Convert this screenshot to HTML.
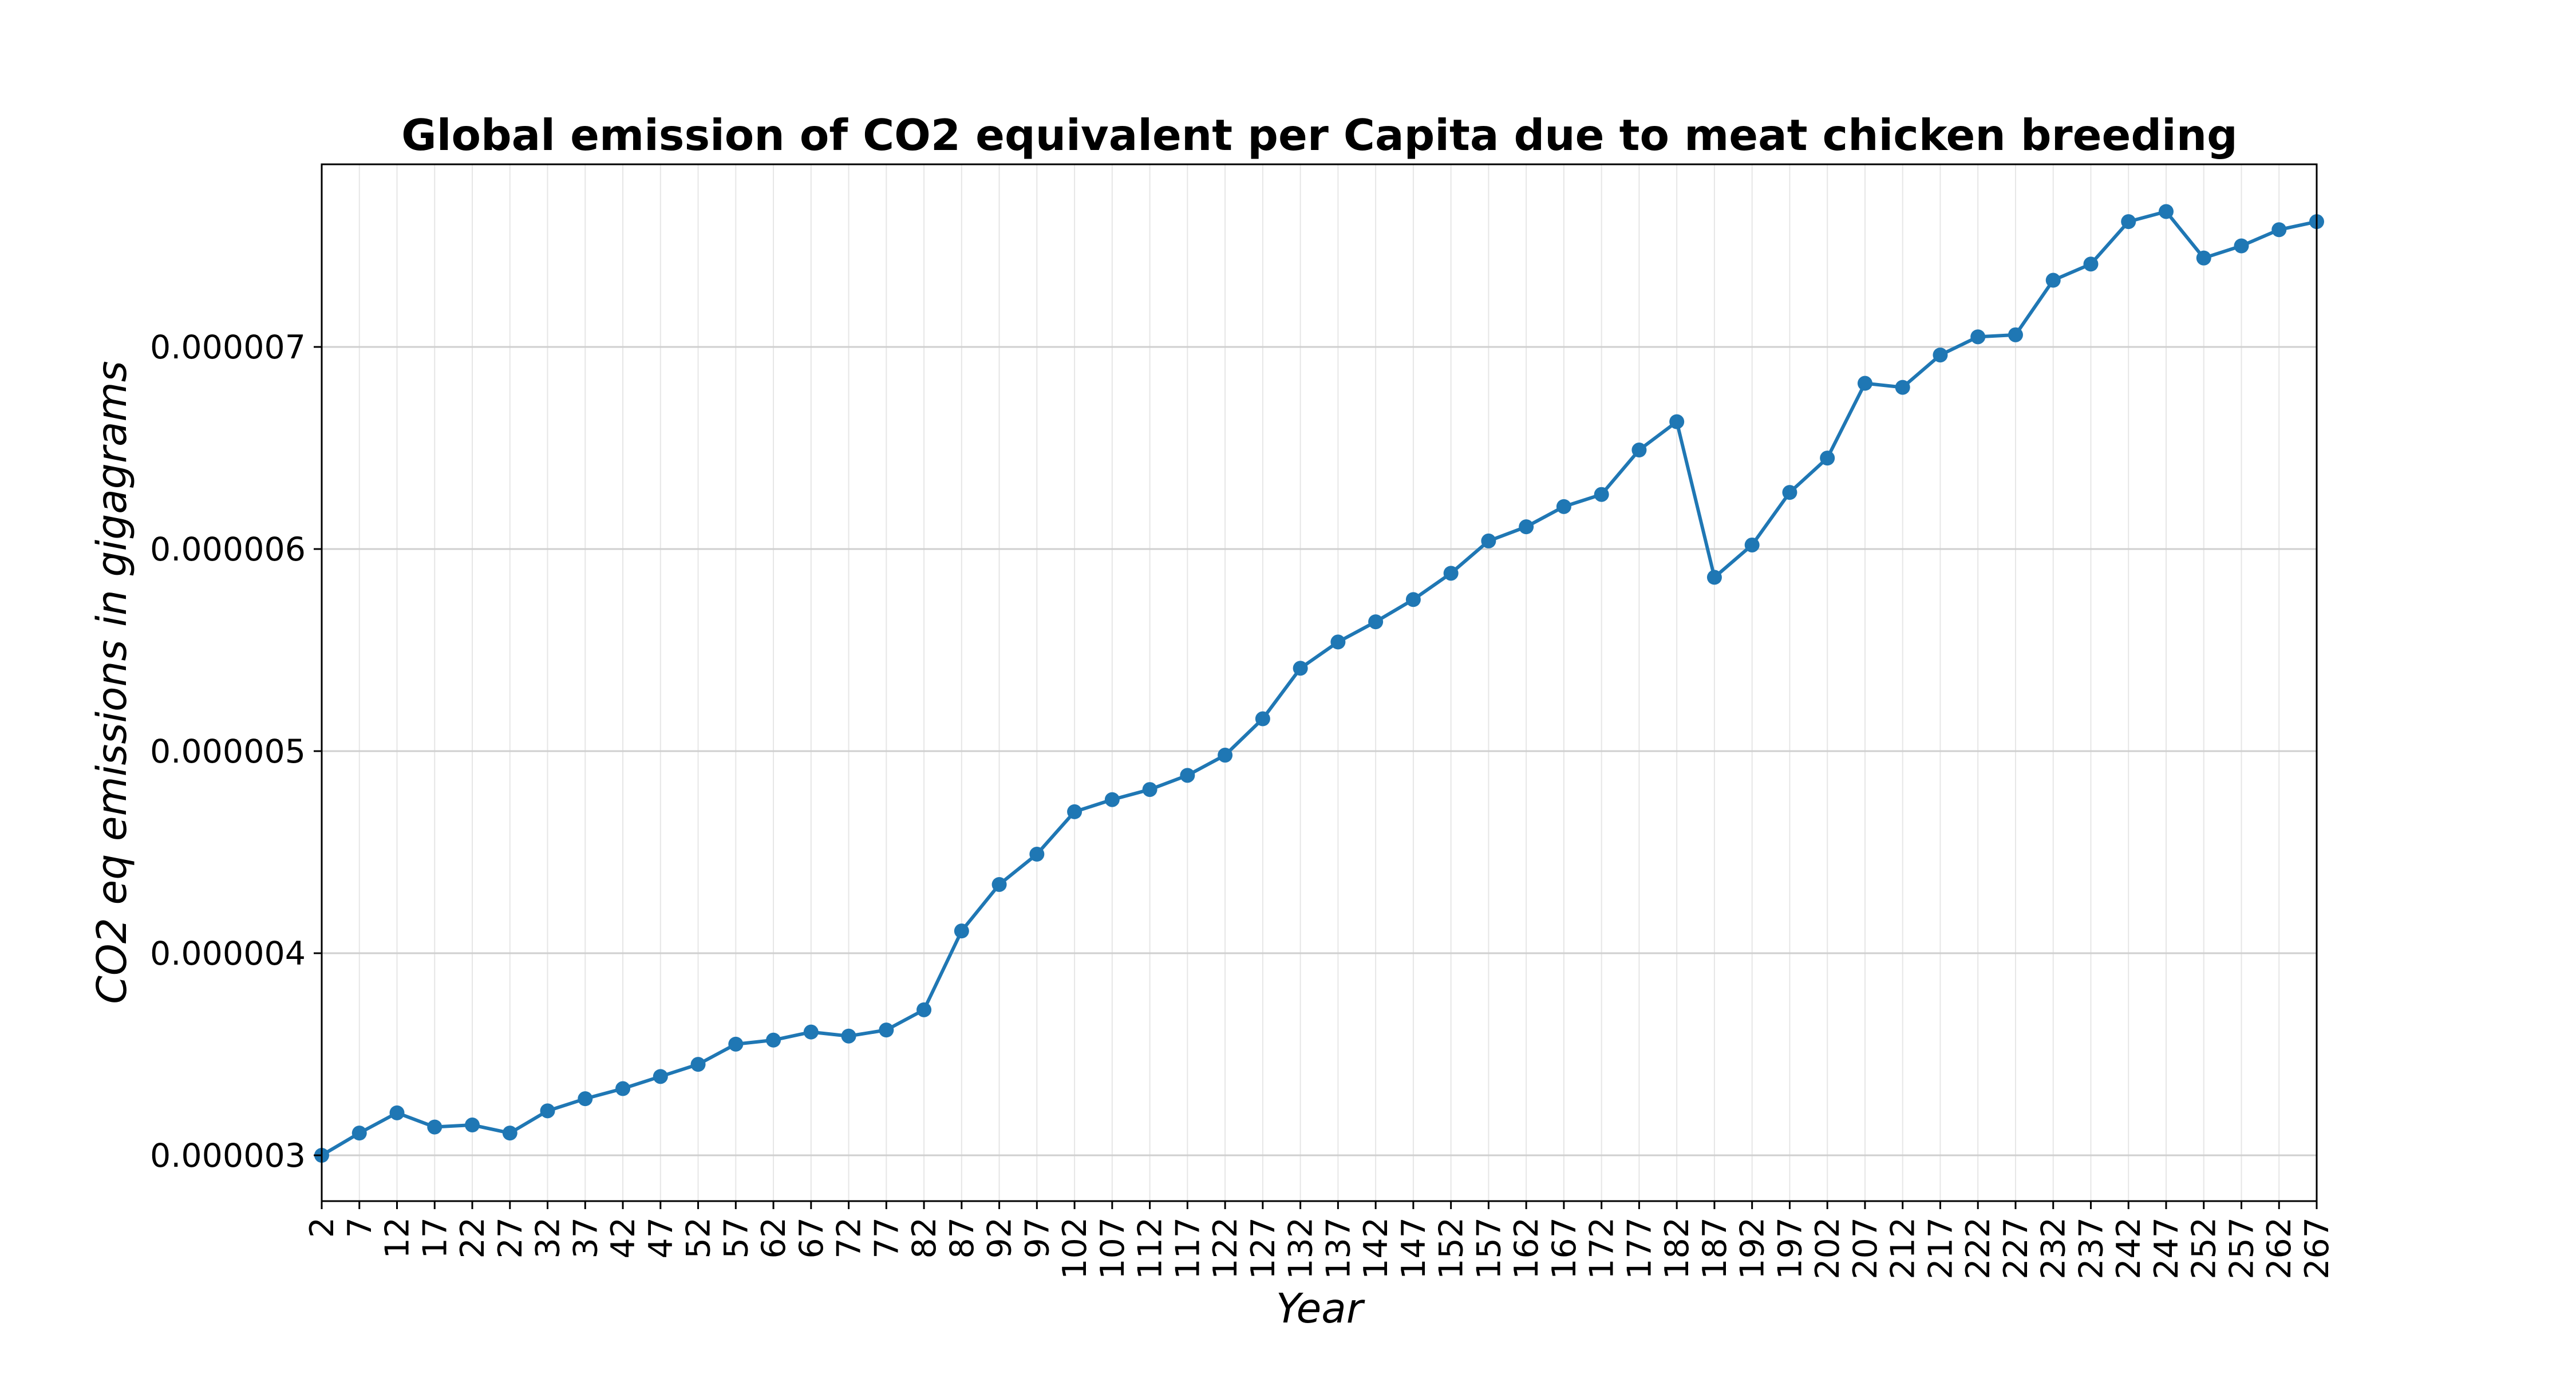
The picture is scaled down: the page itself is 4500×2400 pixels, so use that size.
<!DOCTYPE html>
<html><head><meta charset="utf-8"><style>
html,body{margin:0;padding:0;background:#fff;}
svg{display:block;font-family:"DejaVu Sans","Liberation Sans",sans-serif;}
</style></head><body>
<svg id="chart" width="4500" height="2400" xmlns="http://www.w3.org/2000/svg">
<rect width="4500" height="2400" fill="#fff"/>
<g id="grid"></g>
<g id="series"></g>
<rect x="562" y="287" width="3485" height="1811" fill="none" stroke="#000" stroke-width="3"/>
<g id="axes"></g>
<text x="2305" y="262" text-anchor="middle" font-size="75" font-weight="bold">Global emission of CO2 equivalent per Capita due to meat chicken breeding</text>
<text transform="translate(220,1192) rotate(-90)" text-anchor="middle" font-size="71" font-style="italic">CO2 eq emissions in gigagrams</text>
<text x="2305" y="2310" text-anchor="middle" font-size="71" font-style="italic">Year</text>
</svg>
<script>
const years = [];
for (let y = 2; y <= 267; y += 5) years.push(y);
const values = [3.00,3.11,3.21,3.14,3.15,3.11,3.22,3.28,3.33,3.39,3.45,3.55,3.57,3.61,3.59,3.62,3.72,4.11,4.34,4.49,4.70,4.76,4.81,4.88,4.98,5.16,5.41,5.54,5.64,5.75,5.88,6.04,6.11,6.21,6.27,6.49,6.63,5.86,6.02,6.28,6.45,6.82,6.80,6.96,7.05,7.06,7.33,7.41,7.62,7.67,7.44,7.50,7.58,7.62];
const yTicks = [3,4,5,6,7];
const yTickLabels = ["0.000003","0.000004","0.000005","0.000006","0.000007"];

const L=562,R=4047,T=287,B=2098;
function xs(i){return L+(R-L)*i/(years.length-1);}
function ys(v){return 2018+(v-3)*(606-2018)/4;}
const NS="http://www.w3.org/2000/svg";
function mk(tag,attrs,parent){const e=document.createElementNS(NS,tag);for(const k in attrs)e.setAttribute(k,attrs[k]);parent.appendChild(e);return e;}
const grid=document.getElementById('grid'),axes=document.getElementById('axes'),series=document.getElementById('series');
years.forEach((yr,i)=>{
  const x=xs(i);
  const g=mk('line',{x1:x,x2:x,y1:T,y2:B,stroke:'#e6e6e6','stroke-width':2},grid);
  
  
  const t=mk('line',{x1:x,x2:x,y1:B,y2:B+14,stroke:'#000','stroke-width':3},axes);
  
  
  const lb=mk('text',{transform:`translate(${x+20},${B+28}) rotate(-90)`,'text-anchor':'end','font-size':57},axes);
  lb.textContent=yr;
  
  
});
yTicks.forEach((v,i)=>{
  const y=ys(v);
  const g=mk('line',{x1:L,x2:R,y1:y,y2:y,stroke:'#cfcfcf','stroke-width':3},grid);
  
  
  const t=mk('line',{x1:L-14,x2:L,y1:y,y2:y,stroke:'#000','stroke-width':3},axes);
  
  
  const lb=mk('text',{x:L-28,y:y+20,'text-anchor':'end','font-size':57},axes);
  lb.textContent=yTickLabels[i];
  
  
});
const pts=values.map((v,i)=>xs(i)+','+ys(v)).join(' ');
const pl=mk('polyline',{points:pts,fill:'none',stroke:'#1f77b4','stroke-width':6,'stroke-linejoin':'round'},series);


values.forEach((v,i)=>{
  const c=mk('circle',{cx:xs(i),cy:ys(v),r:13,fill:'#1f77b4'},series);
  
  
});
</script>
</body></html>
